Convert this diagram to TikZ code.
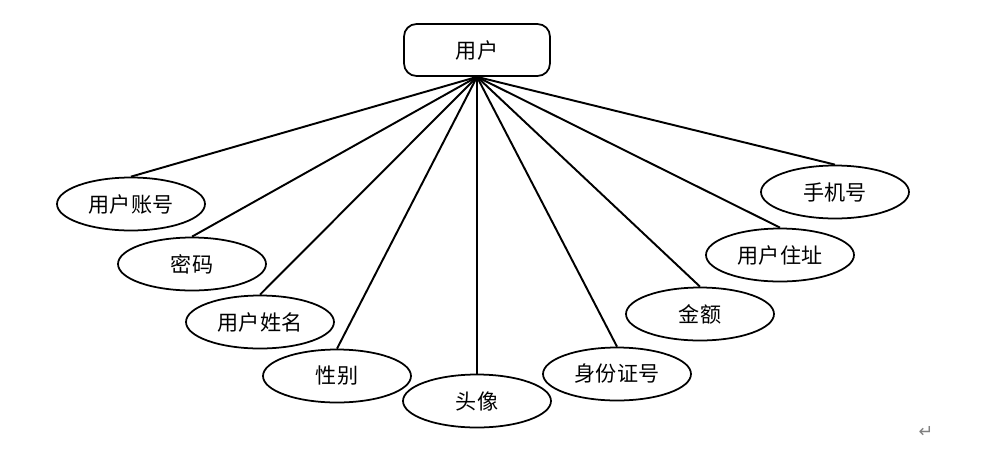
\documentclass[tikz,border=0pt]{standalone}
\usepackage{fontspec}
\usepackage{xcolor}
\usepackage{tikz}
\newfontfamily\cjk{Noto Sans CJK SC}
\newfontfamily\symb{DejaVu Sans}
\definecolor{markgray}{rgb}{0.5, 0.5, 0.5}
\usetikzlibrary{shapes.geometric}
\tikzset{
	entity/.style = {draw, line width = 1pt, rectangle, rounded corners = 0.25cm, minimum width = 2.92cm, minimum height = 1.04cm, font = \cjk\fontsize{12}{14}\selectfont},
	attr/.style = {draw, line width = 1pt, ellipse, minimum width = 2.96cm, minimum height = 1.06cm, inner sep = 0pt, font = \cjk\fontsize{12}{14}\selectfont},
	link/.style = {line width = 1.1pt}
}

\begin{document}
\begin{tikzpicture}[x = 0.02cm, y = -0.02cm]
	\useasboundingbox (0,0) rectangle (996,453);
	
	\node[entity] (user) at (477,50) {用户};
	
	\node[attr] (account) at (131,204) {用户账号};
	\node[attr] (pwd) at (192,264) {密码};
	\node[attr] (uname) at (260,322) {用户姓名};
	\node[attr] (sex) at (337,376) {性别};
	\node[attr] (avatar) at (477,401) {头像};
	\node[attr] (idno) at (617,374) {身份证号};
	\node[attr] (money) at (700,314) {金额};
	\node[attr] (addr) at (780,255) {用户住址};
	\node[attr] (phone) at (835,192) {手机号};
	
	\node[text = markgray, font = \symb\normalsize] (mark) at (926,432) {↵};
	
	\draw[link] (user.south) -- (account.north);
	\draw[link] (user.south) -- (pwd.north);
	\draw[link] (user.south) -- (uname.north);
	\draw[link] (user.south) -- (sex.north);
	\draw[link] (user.south) -- (avatar.north);
	\draw[link] (user.south) -- (idno.north);
	\draw[link] (user.south) -- (money.north);
	\draw[link] (user.south) -- (addr.north);
	\draw[link] (user.south) -- (phone.north);
	
\end{tikzpicture}
\end{document}
